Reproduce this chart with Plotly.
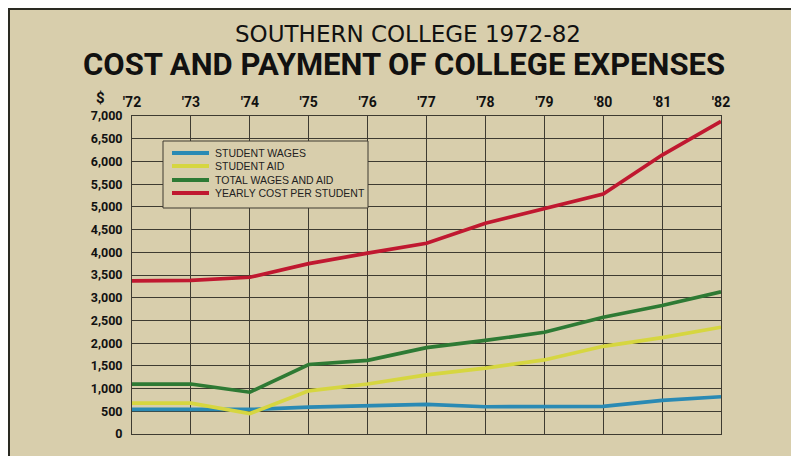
import plotly.graph_objects as go

years = [1972, 1973, 1974, 1975, 1976, 1977, 1978, 1979, 1980, 1981, 1982]
year_labels = ["'72", "'73", "'74", "'75", "'76", "'77", "'78", "'79", "'80", "'81", "'82"]
student_wages = [540, 540, 540, 590, 620, 650, 600, 600, 610, 740, 820]
student_aid = [680, 680, 450, 950, 1100, 1300, 1450, 1630, 1930, 2120, 2350]
total_wages_aid = [1100, 1100, 920, 1530, 1620, 1900, 2060, 2240, 2570, 2830, 3130]
yearly_cost = [3370, 3380, 3450, 3750, 3980, 4200, 4640, 4970, 5280, 6140, 6880]
y_ticks = list(range(0, 7001, 500))
y_labels = ["0" if v == 0 else f"{v:,}" for v in y_ticks]

series_names = ["STUDENT WAGES", "STUDENT AID", "TOTAL WAGES AND AID", "YEARLY COST PER STUDENT"]
series_values = [student_wages, student_aid, total_wages_aid, yearly_cost]
series_colors = ["#2a8ab4", "#d6d640", "#2e7a34", "#c01830"]

# page offset from default HTML body margin
OFF = 8
W, H = 799, 456
# plot area in page pixels
PL, PR, PT, PB = 132, 721, 116, 434
L, R, T, B = PL - OFF, PR - OFF, PT - OFF, PB - OFF

def px(x):  # page px -> paper
    return (x - PL) / (PR - PL)

def py(y):
    return (PB - y) / (PB - PT)

fig = go.Figure()
for name, vals, col in zip(series_names, series_values, series_colors):
    fig.add_trace(go.Scatter(x=years, y=vals, mode="lines", name=name,
                             line=dict(color=col, width=3.7), cliponaxis=False,
                             showlegend=False))

bg = "#d8ceac"
grid = "#3e3b31"
tick_font = "Roboto, Liberation Sans, sans-serif"

fig.update_layout(
    width=W, height=H,
    margin=dict(l=L, r=W - R, t=T, b=H - B),
    paper_bgcolor=bg, plot_bgcolor=bg,
    showlegend=False,
    xaxis=dict(range=[1972, 1982], side="top", tickvals=years, ticktext=year_labels,
               showgrid=True, gridcolor=grid, gridwidth=1, zeroline=False,
               showline=True, linecolor=grid, mirror=True, ticks="",
               tickfont=dict(family=tick_font, size=14, color="#111", weight="bold"),
               ticklabelstandoff=2),
    yaxis=dict(range=[0, 7000], tickvals=y_ticks, ticktext=y_labels,
               showgrid=True, gridcolor=grid, gridwidth=1, zeroline=False,
               showline=True, linecolor=grid, mirror=True, ticks="",
               tickfont=dict(family=tick_font, size=12.5, color="#111", weight="bold"),
               ticklabelstandoff=6),
    font=dict(family="Liberation Sans, Arial, sans-serif", color="#111"),
)

fig.add_annotation(text="SOUTHERN COLLEGE 1972-82", xref="paper", yref="paper",
                   x=px(408), y=py(34), xanchor="center", yanchor="middle", showarrow=False,
                   font=dict(family="DejaVu Sans, sans-serif", size=23, color="#111"))
fig.add_annotation(text="<b>COST AND PAYMENT OF COLLEGE EXPENSES</b>", xref="paper", yref="paper",
                   x=px(404), y=py(65), xanchor="center", yanchor="middle", showarrow=False,
                   font=dict(family="Roboto, sans-serif", size=31, color="#111"))
fig.add_annotation(text="<b>$</b>", xref="paper", yref="paper",
                   x=px(100), y=py(98), xanchor="center", yanchor="middle", showarrow=False,
                   font=dict(family=tick_font, size=15, color="#111"))

# legend box (drawn manually)
fig.add_shape(type="rect", xref="paper", yref="paper", x0=px(163), x1=px(368), y0=py(141), y1=py(208),
              fillcolor=bg, line=dict(color=grid, width=1), layer="above")
row_y = [153, 166, 180, 193]
for name, col, ry in zip(series_names, series_colors, row_y):
    fig.add_shape(type="line", xref="paper", yref="paper", x0=px(172), x1=px(209), y0=py(ry), y1=py(ry),
                  line=dict(color=col, width=4), layer="above")
    fig.add_annotation(text=name, xref="paper", yref="paper", x=px(213), y=py(ry),
                       xanchor="left", yanchor="middle", showarrow=False,
                       font=dict(family="Liberation Sans, Arial, sans-serif", size=10.5, color="#222"))

# frame
fig.add_shape(type="line", xref="paper", yref="paper", x0=px(9), x1=px(799), y0=py(OFF + 1), y1=py(OFF + 1),
              line=dict(color="#2a2a22", width=2))
fig.add_shape(type="line", xref="paper", yref="paper", x0=px(OFF + 1), x1=px(OFF + 1), y0=py(OFF), y1=py(470),
              line=dict(color="#2a2a22", width=2))

fig.write_html("out.html")
